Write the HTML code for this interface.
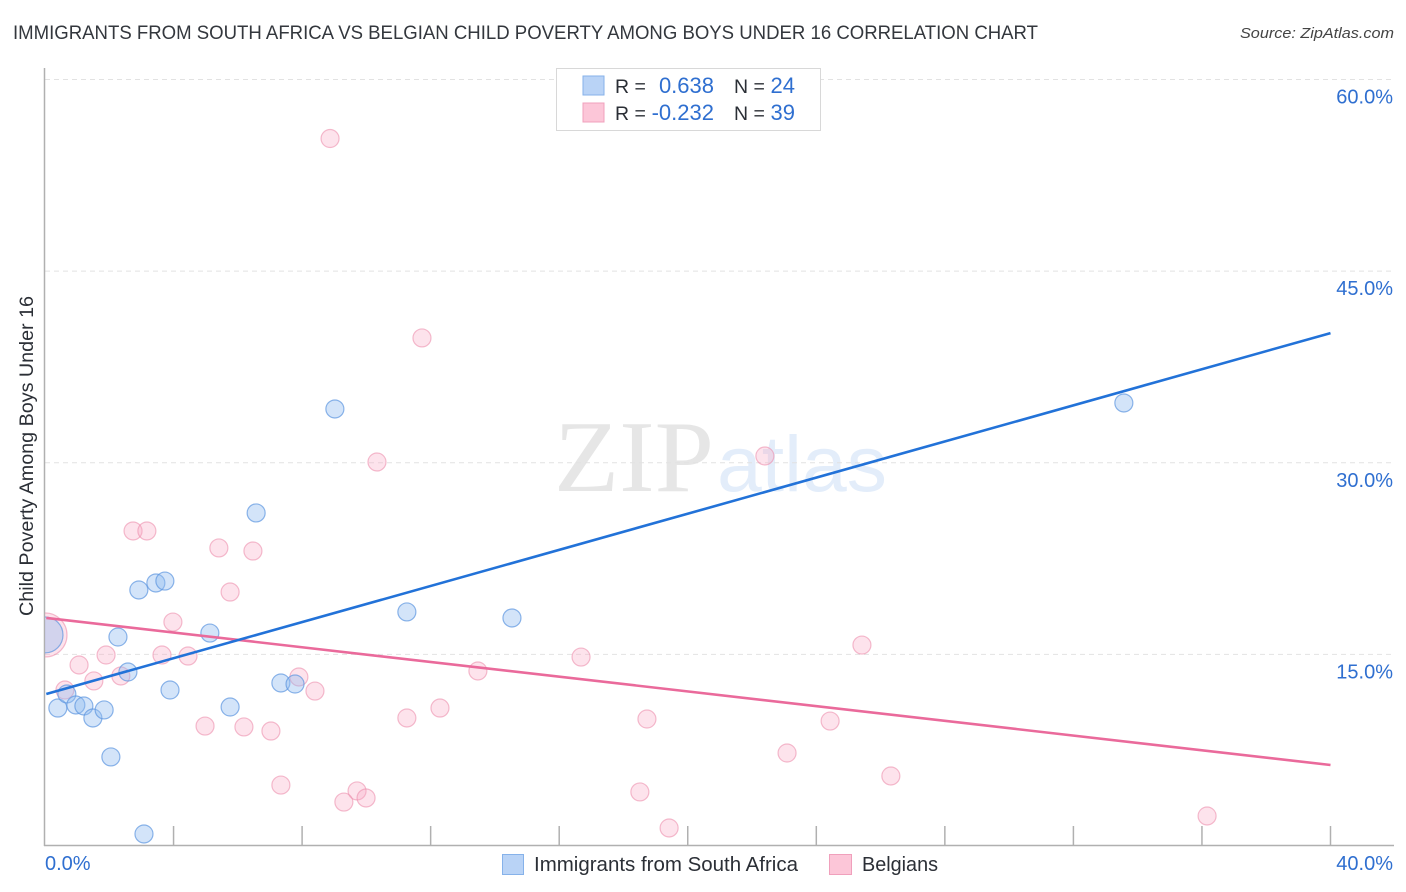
<!DOCTYPE html>
<html><head><meta charset="utf-8"><title>Correlation Chart</title>
<style>
html,body{margin:0;padding:0;background:#fff;width:1406px;height:892px;overflow:hidden}
svg{display:block;font-family:"Liberation Sans",sans-serif}
</style></head>
<body>
<svg id="chart" width="1406" height="892" viewBox="0 0 1406 892">
<defs><clipPath id="plot-clip"><rect x="45" y="60" width="1349" height="786"/></clipPath></defs>
<text x="13" y="39" font-size="19.5" fill="#33373d" textLength="1025" lengthAdjust="spacingAndGlyphs">IMMIGRANTS FROM SOUTH AFRICA VS BELGIAN CHILD POVERTY AMONG BOYS UNDER 16 CORRELATION CHART</text>
<text x="1394" y="38" font-size="15" font-style="italic" fill="#444" text-anchor="end" textLength="154" lengthAdjust="spacingAndGlyphs">Source: ZipAtlas.com</text>
<g>
<text x="554" y="491" font-family="'Liberation Serif',serif" font-size="102" fill="#e6e6e6" textLength="160" lengthAdjust="spacingAndGlyphs">ZIP</text>
<text x="717" y="491" font-size="79" fill="#e3edfa" textLength="170" lengthAdjust="spacingAndGlyphs">atlas</text>
</g>
<g id="grid"></g>
<g id="axes"></g>
<g id="pink-points" clip-path="url(#plot-clip)"></g>
<g id="blue-points" clip-path="url(#plot-clip)"></g>
<g id="trends"></g>
<g>
<rect x="556.5" y="68.5" width="264" height="62" fill="#fff" stroke="#d8d8d8"/>
<rect x="583" y="76" width="21" height="19" fill="#b9d3f6" stroke="#86b2ea"/>
<rect x="583" y="103" width="21" height="19" fill="#fcc6d8" stroke="#f0a0bc"/>
<g font-size="19.5" fill="#2b2f36">
<text x="615" y="93">R =</text>
<text x="615" y="120">R =</text>
<text x="734" y="93">N =</text>
<text x="734" y="120">N =</text>
</g>
<g font-size="22" fill="#2f6fd0">
<text x="714" y="93" text-anchor="end">0.638</text>
<text x="714" y="120" text-anchor="end">-0.232</text>
<text x="795" y="93" text-anchor="end">24</text>
<text x="795" y="120" text-anchor="end">39</text>
</g>
</g>
<text transform="translate(33,456) rotate(-90)" font-size="19" fill="#2b2f36" text-anchor="middle" textLength="320" lengthAdjust="spacingAndGlyphs">Child Poverty Among Boys Under 16</text>
<g>
<rect x="502.5" y="854.5" width="21" height="20" fill="#b9d3f6" stroke="#86b2ea"/>
<text x="534" y="871" font-size="20" fill="#2b2f36" textLength="264" lengthAdjust="spacingAndGlyphs">Immigrants from South Africa</text>
<rect x="829.5" y="854.5" width="22" height="20" fill="#fcc6d8" stroke="#f0a0bc"/>
<text x="862" y="871" font-size="20" fill="#2b2f36" textLength="76" lengthAdjust="spacingAndGlyphs">Belgians</text>
</g>
</svg>
<script>
const yTicks = [15, 30, 45, 60];
const yTickLabels = ["15.0%", "30.0%", "45.0%", "60.0%"];
const xTicks = [0, 4, 8, 12, 16, 20, 24, 28, 32, 36, 40];
const xEndLabels = ["0.0%", "40.0%"];
const blueX = [0.40,0.68,0.96,1.21,1.49,1.84,2.05,2.27,2.58,2.92,3.45,3.73,3.89,3.08,5.13,5.76,6.57,7.34,7.78,9.02,11.26,14.53,33.57,0];
const blueY = [10.80,11.90,11.04,10.96,10.02,10.65,6.97,16.36,13.62,20.04,20.59,20.74,12.21,0.94,16.67,10.88,26.07,12.76,12.68,34.21,18.32,17.85,34.68,16.52];
const blueSize = [9,9,9,9,9,9,9,9,9,9,9,9,9,9,9,9,9,9,9,9,9,9,9,18];
const pinkX = [8.87,11.73,10.33,22.40,2.74,3.17,5.41,6.47,5.76,3.98,1.90,3.64,4.45,1.06,1.52,2.36,0.62,7.90,8.40,13.47,16.68,25.42,4.98,6.19,7.03,11.26,12.29,18.73,24.43,23.09,26.32,7.34,9.71,9.30,9.99,18.51,19.42,36.16,0];
const pinkY = [55.38,39.77,30.06,30.53,24.66,24.66,23.33,23.09,19.88,17.53,14.95,14.95,14.87,14.17,12.92,13.31,12.21,13.23,12.13,13.70,14.79,15.73,9.39,9.32,9.00,10.02,10.80,9.94,9.78,7.28,5.48,4.77,4.31,3.44,3.76,4.23,1.41,2.35,16.52];
const pinkSize = [9,9,9,9,9,9,9,9,9,9,9,9,9,9,9,9,9,9,9,9,9,9,9,9,9,9,9,9,9,9,9,9,9,9,9,9,9,9,22];
const blueTrendX = [0.04, 40];
const blueTrendY = [11.90, 40.15];
const pinkTrendX = [0.04, 40];
const pinkTrendY = [17.85, 6.34];

const NS = "http://www.w3.org/2000/svg";
function sx(v){ return 45 + v * 32.1375; }
function sy(v){ return 846 - v * 12.775; }
function mk(parent, tag, attrs){
  const el = document.createElementNS(NS, tag);
  for (const k in attrs) el.setAttribute(k, attrs[k]);
  document.getElementById(parent).appendChild(el);
  return el;
}
yTicks.forEach(function(v, i){
  const line = mk("grid", "line", {x1:45, x2:1394, y1:sy(v), y2:sy(v), stroke:"#e2e2e2", "stroke-width":1, "stroke-dasharray":"5 4"});
  
  
  const t = mk("grid", "text", {x:1393, y:sy(v) + 24, "text-anchor":"end", "font-size":20, fill:"#2f6fd0"});
  t.textContent = yTickLabels[i];
  
  
});
const yAxisLine = mk("axes", "line", {x1:44.5, x2:44.5, y1:68, y2:846, stroke:"#b0b0b0", "stroke-width":1.5});


const xAxisLine = mk("axes", "line", {x1:44, x2:1394, y1:845.5, y2:845.5, stroke:"#b0b0b0", "stroke-width":1.5});


xTicks.forEach(function(v){
  if (v === 0) return;
  const tick = mk("axes", "line", {x1:sx(v), x2:sx(v), y1:826, y2:846, stroke:"#b0b0b0", "stroke-width":1.5});
  
  
});
const xLabelLeft = mk("axes", "text", {x:45, y:870, "font-size":20, fill:"#2f6fd0"});
xLabelLeft.textContent = xEndLabels[0];


const xLabelRight = mk("axes", "text", {x:1393, y:870, "font-size":20, fill:"#2f6fd0", "text-anchor":"end"});
xLabelRight.textContent = xEndLabels[1];



pinkX.forEach(function(v, i){
  const c = mk("pink-points", "circle", {cx:sx(v), cy:sy(pinkY[i]), r:pinkSize[i], fill:"#f8a8c4", "fill-opacity":0.32, stroke:"#ec8fae", "stroke-opacity":0.6, "stroke-width":1.2});
  
  
});
blueX.forEach(function(v, i){
  const c = mk("blue-points", "circle", {cx:sx(v), cy:sy(blueY[i]), r:blueSize[i], fill:"#90bcf0", "fill-opacity":0.4, stroke:"#5d96e0", "stroke-opacity":0.7, "stroke-width":1.2});
  
  
});
const pinkTrend = mk("trends", "line", {x1:sx(pinkTrendX[0]), y1:sy(pinkTrendY[0]), x2:sx(pinkTrendX[1]), y2:sy(pinkTrendY[1]), stroke:"#ea6a9b", "stroke-width":2.6});


const blueTrend = mk("trends", "line", {x1:sx(blueTrendX[0]), y1:sy(blueTrendY[0]), x2:sx(blueTrendX[1]), y2:sy(blueTrendY[1]), stroke:"#2272d8", "stroke-width":2.6});


</script>
</body></html>
